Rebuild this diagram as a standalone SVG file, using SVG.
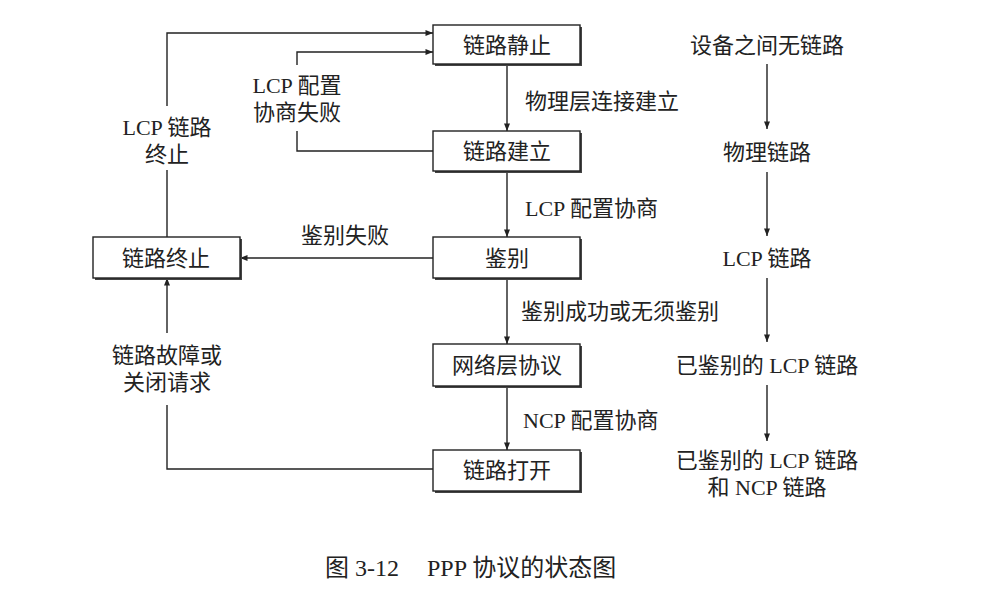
<svg xmlns="http://www.w3.org/2000/svg" width="992" height="593" viewBox="0 0 992 593">
<defs>
<marker id="ah" viewBox="0 0 10 8" refX="10" refY="4" markerWidth="8" markerHeight="6" markerUnits="userSpaceOnUse" orient="auto">
<path d="M0,0 L10,4 L0,8 z" fill="#222"/>
</marker>
</defs>
<style>
.box{fill:#fff;stroke:#222;stroke-width:1.4}
.sh{fill:#444}
.t{font-family:"Liberation Serif","Noto Sans CJK SC",serif;font-size:22px;fill:#222;text-anchor:middle;dominant-baseline:central}
.l{font-family:"Liberation Serif","Noto Sans CJK SC",serif;font-size:22px;fill:#222;dominant-baseline:central}
.cap{font-family:"Liberation Serif","Noto Sans CJK SC",serif;font-size:24px;fill:#222;dominant-baseline:central}
.c{fill:none;stroke:#222;stroke-width:1.4}
</style>
<rect width="992" height="593" fill="#fff"/>

<g id="connectors">
<path class="c" d="M507,64 V131" marker-end="url(#ah)"/>
<path class="c" d="M507,171 V237" marker-end="url(#ah)"/>
<path class="c" d="M507,278 V344" marker-end="url(#ah)"/>
<path class="c" d="M507,386 V450" marker-end="url(#ah)"/>
<path class="c" d="M167,237 V170"/>
<path class="c" d="M167,106 V33 H433" marker-end="url(#ah)"/>
<path class="c" d="M433,151 H297 V131"/>
<path class="c" d="M297,65 V52 H433" marker-end="url(#ah)"/>
<path class="c" d="M433,258 H240" marker-end="url(#ah)"/>
<path class="c" d="M433,469 H167 V405"/>
<path class="c" d="M167,333 V278" marker-end="url(#ah)"/>
<path class="c" d="M767,64 V129" marker-end="url(#ah)"/>
<path class="c" d="M767,172 V236" marker-end="url(#ah)"/>
<path class="c" d="M767,278 V342" marker-end="url(#ah)"/>
<path class="c" d="M767,385 V441" marker-end="url(#ah)"/>
</g>

<g id="n-quiet"><rect class="sh" x="435" y="27" width="147" height="39"/><rect class="box" x="433" y="25" width="147" height="39"/><text class="t" x="507" y="45">链路静止</text></g>
<g id="n-establish"><rect class="sh" x="435" y="133" width="147" height="40"/><rect class="box" x="433" y="131" width="147" height="40"/><text class="t" x="507" y="151">链路建立</text></g>
<g id="n-auth"><rect class="sh" x="435" y="239" width="147" height="41"/><rect class="box" x="433" y="237" width="147" height="41"/><text class="t" x="507" y="258">鉴别</text></g>
<g id="n-network"><rect class="sh" x="435" y="346" width="147" height="42"/><rect class="box" x="433" y="344" width="147" height="42"/><text class="t" x="507" y="365">网络层协议</text></g>
<g id="n-open"><rect class="sh" x="435" y="452" width="147" height="41"/><rect class="box" x="433" y="450" width="147" height="41"/><text class="t" x="507" y="470">链路打开</text></g>
<g id="n-terminate"><rect class="sh" x="95" y="239" width="147" height="41"/><rect class="box" x="93" y="237" width="147" height="41"/><text class="t" x="166" y="258">链路终止</text></g>

<g id="labels">
<text class="l" x="525" y="101">物理层连接建立</text>
<text class="l" x="525" y="208">LCP 配置协商</text>
<text class="l" x="521" y="311">鉴别成功或无须鉴别</text>
<text class="l" x="523" y="420">NCP 配置协商</text>
<text class="t" x="167" y="127">LCP 链路</text>
<text class="t" x="167" y="154">终止</text>
<text class="t" x="297" y="85">LCP 配置</text>
<text class="t" x="297" y="112">协商失败</text>
<text class="t" x="345" y="235">鉴别失败</text>
<text class="t" x="167" y="355">链路故障或</text>
<text class="t" x="167" y="382">关闭请求</text>
</g>

<g id="r-none"><text class="t" x="767" y="45">设备之间无链路</text></g>
<g id="r-phys"><text class="t" x="767" y="152">物理链路</text></g>
<g id="r-lcp"><text class="t" x="767" y="258">LCP 链路</text></g>
<g id="r-authlcp"><text class="t" x="767" y="365">已鉴别的 LCP 链路</text></g>
<g id="r-authncp"><text class="t" x="767" y="460">已鉴别的 LCP 链路</text><text class="t" x="767" y="487">和 NCP 链路</text></g>

<g id="caption">
<text class="cap" x="325" y="568">图 3-12</text>
<text class="cap" x="427" y="568">PPP 协议的状态图</text>
</g>
</svg>
